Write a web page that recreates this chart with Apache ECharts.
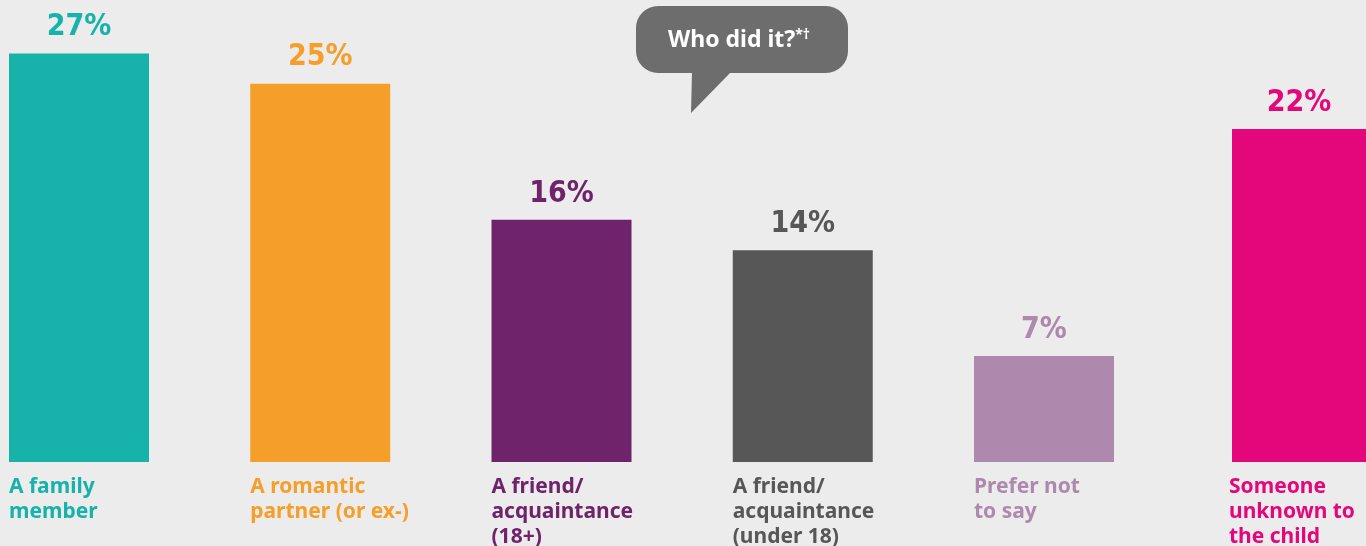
<!DOCTYPE html>
<html><head><meta charset="utf-8">
<script src="https://cdn.jsdelivr.net/npm/echarts@6/dist/echarts.min.js"></script>
<style>html,body{margin:0;padding:0;background:#ececec;}#c{width:1366px;height:546px;}</style>
</head><body><div id="c"></div>
<script>
const categories = ['A family\nmember', 'A romantic\npartner (or ex-)', 'A friend/\nacquaintance\n(18+)', 'A friend/\nacquaintance\n(under 18)', 'Prefer not\nto say', 'Someone\nunknown to\nthe child'];
const values = [27, 25, 16, 14, 7, 22];
const colors = ['#17b2aa', '#f59e2a', '#6f236b', '#575757', '#ae88ad', '#e4067b'];
const labelColors = ['#17b2aa', '#f59e2a', '#6f236b', '#575757', '#ae88ad', '#e4067b'];

const chart = echarts.init(document.getElementById('c'));
const nMain = 5;
function barData(from, to) {
  return values.slice(from, to).map((v, i) => ({ value: v, itemStyle: { color: colors[from + i] }, label: { color: colors[from + i] } }));
}
function nameData(from, to) {
  return categories.slice(from, to).map((c, i) => ({ value: [i, 0], label: { color: labelColors[from + i] } }));
}
const valLabel = { show: true, position: 'top', distance: 11, formatter: '{c}%', fontFamily: "'DejaVu Sans Condensed','Liberation Sans Narrow',sans-serif", fontWeight: 'bold', fontSize: 30 };
const nameLabel = (from) => ({ show: true, position: 'bottom', distance: 13, align: 'left', offset: [-70, 0], fontFamily: "'Noto Sans',sans-serif", fontWeight: 'bold', fontSize: 21, lineHeight: 25,
  formatter: p => categories[from + p.dataIndex] });
chart.setOption({
  backgroundColor: '#ececec',
  animation: false,
  grid: [
    { left: 79, width: 965, top: 8, height: 454 },
    { left: 1232, width: 140, top: 8, height: 454 }
  ],
  xAxis: [
    { gridIndex: 0, type: 'category', data: categories.slice(0, nMain), boundaryGap: false, axisLine: { show: false }, axisTick: { show: false }, axisLabel: { show: false } },
    { gridIndex: 1, type: 'category', data: categories.slice(nMain), boundaryGap: true, axisLine: { show: false }, axisTick: { show: false }, axisLabel: { show: false } }
  ],
  yAxis: [
    { gridIndex: 0, type: 'value', min: 0, max: 30, show: false },
    { gridIndex: 1, type: 'value', min: 0, max: 30, show: false }
  ],
  series: [
    { type: 'bar', xAxisIndex: 0, yAxisIndex: 0, barWidth: 140, data: barData(0, nMain), label: valLabel },
    { type: 'bar', xAxisIndex: 1, yAxisIndex: 1, barWidth: 140, data: barData(nMain, values.length), label: valLabel },
    { type: 'scatter', xAxisIndex: 0, yAxisIndex: 0, symbolSize: 0, clip: false, itemStyle: { opacity: 1 }, data: nameData(0, nMain), label: nameLabel(0) },
    { type: 'scatter', xAxisIndex: 1, yAxisIndex: 1, symbolSize: 0, clip: false, itemStyle: { opacity: 1 }, data: nameData(nMain, values.length), label: nameLabel(nMain) }
  ],
  graphic: [
    { type: 'rect', shape: { x: 636, y: 6, width: 212, height: 67, r: 22 }, style: { fill: '#6d6d6d' }, silent: true },
    { type: 'polygon', shape: { points: [[692, 72], [731, 72], [691, 113]] }, style: { fill: '#6d6d6d' }, silent: true },
    { type: 'text', x: 739, y: 40, style: { text: '{a|Who did it?}{b|*†}', align: 'center', verticalAlign: 'middle',
      rich: { a: { fill: '#fff', fontFamily: "'Noto Sans',sans-serif", fontWeight: 'bold', fontSize: 23 },
              b: { fill: '#fff', fontFamily: "'Noto Sans',sans-serif", fontWeight: 'bold', fontSize: 14, verticalAlign: 'top', padding: [0,0,8,0] } } }, silent: true }
  ]
});
</script></body></html>
